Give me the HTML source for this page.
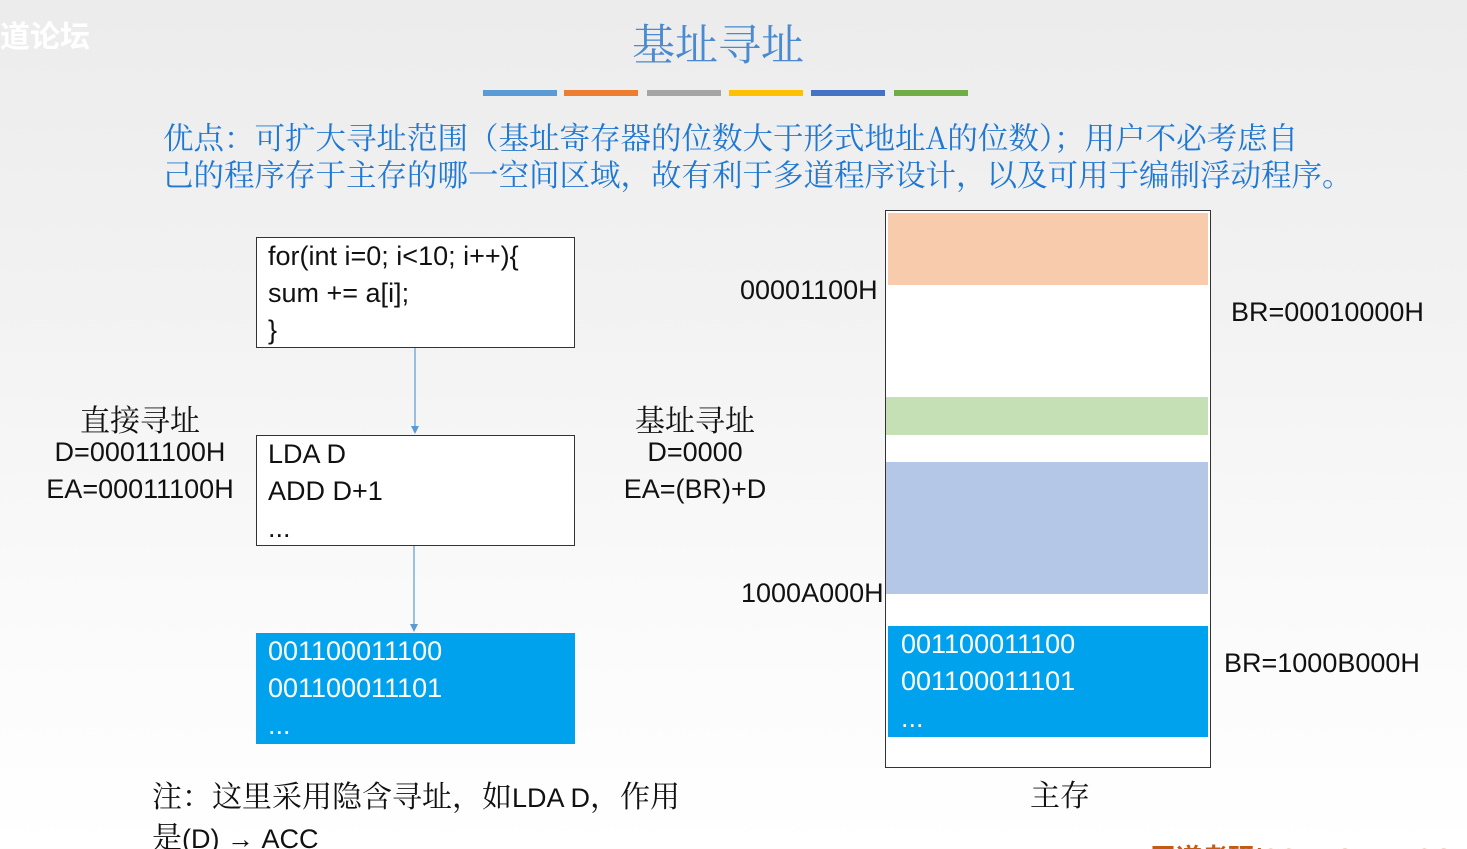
<!DOCTYPE html>
<html style="overflow:hidden;height:849px;"><head><meta charset="utf-8"><style>
html,body{margin:0;width:1467px;height:849px;overflow:hidden;}
body{position:relative;background:linear-gradient(#ececec 0,#f2f2f2 300px,#fafafa 600px,#fff 849px);font-family:"Liberation Sans","Noto Sans CJK SC",sans-serif;}
.a{position:absolute;white-space:nowrap;}
.cj{font-family:"Noto Serif CJK SC","Noto Sans CJK SC",serif;}
.box{position:absolute;border:1px solid #333;background:#fff;box-sizing:border-box;font-size:27px;line-height:37px;padding:0 0 0 11px;color:#111;}
.bar{position:absolute;top:90px;height:6px;}
.lab{position:absolute;font-size:27px;color:#111;white-space:nowrap;}
</style></head><body>
<div class="a" style="left:0;top:12px;font-size:30px;color:#fff;font-weight:bold;">道论坛</div>
<div class="a cj" style="left:632px;top:12px;font-size:43px;color:#4a8ad0;">基址寻址</div>
<div class="bar" style="left:483px;width:74px;background:#5b9bd5"></div>
<div class="bar" style="left:564px;width:74px;background:#ed7d31"></div>
<div class="bar" style="left:647px;width:74px;background:#a5a5a5"></div>
<div class="bar" style="left:729px;width:74px;background:#ffc000"></div>
<div class="bar" style="left:811px;width:74px;background:#4472c4"></div>
<div class="bar" style="left:894px;width:74px;background:#70ad47"></div>
<div class="a cj" style="left:163px;top:118px;font-size:30.5px;color:#1f78d1;line-height:37px;">优点：可扩大寻址范围（基址寄存器的位数大于形式地址A的位数）；用户不必考虑自<br>己的程序存于主存的哪一空间区域，故有利于多道程序设计，以及可用于编制浮动程序。</div>
<div class="box" style="left:256px;top:237px;width:319px;height:111px;">for(int i=0; i&lt;10; i++){<br>sum += a[i];<br>}</div>
<div class="box" style="left:256px;top:435px;width:319px;height:111px;">LDA D<br>ADD D+1<br>...</div>
<div class="box" style="left:256px;top:633px;width:319px;height:111px;background:#00a2ed;border:none;color:#fff;padding-left:12px;">001100011100<br>001100011101<br>...</div>
<svg class="a" style="left:0;top:0" width="1467" height="849">
<line x1="415" y1="348" x2="415" y2="428" stroke="#5b9bd5" stroke-width="1.2"/><path d="M411 426 L415 434 L419 426Z" fill="#5b9bd5"/>
<line x1="414" y1="546" x2="414" y2="626" stroke="#5b9bd5" stroke-width="1.2"/><path d="M410 624 L414 632 L418 624Z" fill="#5b9bd5"/>
</svg>
<div class="lab cj" style="left:40px;top:396px;width:200px;text-align:center;font-size:30px;">直接寻址</div>
<div class="lab" style="left:40px;top:437px;width:200px;text-align:center;">D=00011100H</div>
<div class="lab" style="left:40px;top:474px;width:200px;text-align:center;">EA=00011100H</div>
<div class="lab cj" style="left:595px;top:396px;width:200px;text-align:center;font-size:30px;">基址寻址</div>
<div class="lab" style="left:595px;top:437px;width:200px;text-align:center;">D=0000</div>
<div class="lab" style="left:595px;top:474px;width:200px;text-align:center;">EA=(BR)+D</div>
<div class="a" style="left:885px;top:210px;width:326px;height:558px;border:1px solid #333;box-sizing:border-box;background:#fff;"></div>
<div class="a" style="left:888px;top:213px;width:320px;height:72px;background:#f8cbad;"></div>
<div class="a" style="left:886px;top:397px;width:322px;height:38px;background:#c5e0b4;"></div>
<div class="a" style="left:886px;top:462px;width:322px;height:132px;background:#b4c7e7;"></div>
<div class="a" style="left:888px;top:626px;width:320px;height:111px;background:#00a2ed;color:#fff;font-size:27px;line-height:37px;padding:0 0 0 13px;box-sizing:border-box;">001100011100<br>001100011101<br>...</div>
<div class="lab" style="left:740px;top:275px;">00001100H</div>
<div class="lab" style="left:741px;top:578px;">1000A000H</div>
<div class="lab" style="left:1231px;top:297px;">BR=00010000H</div>
<div class="lab" style="left:1224px;top:648px;">BR=1000B000H</div>
<div class="lab cj" style="left:1030px;top:771px;font-size:30px;">主存</div>
<div class="lab cj" style="left:152px;top:776px;font-size:30px;line-height:37px;">注：这里采用隐含寻址，如<span style="font-family:'Liberation Sans';font-size:27px">LDA D</span>，作用<br>是<span style="font-family:'Liberation Sans';font-size:27px">(D) → ACC</span></div>
<div class="a" style="left:1150px;top:838px;font-size:26px;color:#c55a11;font-weight:bold;">王道考研/CSKAOYAN.COM</div>
</body></html>
